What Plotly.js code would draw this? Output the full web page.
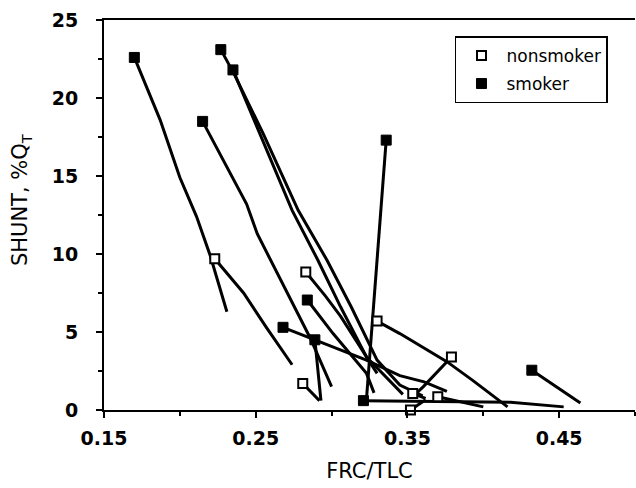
<!DOCTYPE html>
<html>
<head>
<meta charset="utf-8">
<script src="https://cdn.plot.ly/plotly-3.0.1.min.js"></script>
<style>html,body{margin:0;padding:0;background:#fff;}#chart{width:636px;height:488px;}</style>
</head>
<body>
<div id="chart"></div>
<script>
// Smokers (first point = measured marker)
const s1_x = [0.170, 0.187, 0.200, 0.211, 0.220, 0.231];
const s1_y = [22.6, 18.6, 14.9, 12.4, 9.9, 6.3];
const s2_x = [0.215, 0.231, 0.244, 0.251, 0.264, 0.286, 0.300];
const s2_y = [18.5, 15.6, 13.2, 11.3, 8.8, 4.6, 1.5];
const s3_x = [0.227, 0.236, 0.255, 0.278, 0.297, 0.313, 0.330, 0.345, 0.360];
const s3_y = [23.1, 21.5, 17.7, 12.8, 9.6, 6.6, 3.2, 1.6, 0.9];
const s4_x = [0.235, 0.253, 0.274, 0.291, 0.306, 0.323, 0.347];
const s4_y = [21.8, 17.7, 12.8, 9.6, 6.6, 3.4, 1.0];
const s5_x = [0.336, 0.323];
const s5_y = [17.3, 0.7];
const s6_x = [0.284, 0.301, 0.323, 0.328];
const s6_y = [7.05, 4.9, 2.35, 1.1];
const s7_x = [0.268, 0.289, 0.301, 0.323, 0.345, 0.361, 0.376];
const s7_y = [5.3, 4.5, 4.06, 3.2, 2.2, 1.8, 1.2];
const s8_x = [0.289, 0.293];
const s8_y = [4.5, 0.6];
const s9_x = [0.321, 0.360, 0.418, 0.453];
const s9_y = [0.6, 0.55, 0.5, 0.2];
const s10_x = [0.432, 0.464];
const s10_y = [2.55, 0.45];

// Nonsmokers
const n1_x = [0.223, 0.242, 0.257, 0.274];
const n1_y = [9.7, 7.5, 5.3, 2.9];
const n2_x = [0.283, 0.296, 0.306, 0.330];
const n2_y = [8.85, 7.3, 6.0, 2.35];
const n3_x = [0.281, 0.292];
const n3_y = [1.7, 0.6];
const n4_x = [0.330, 0.345, 0.376, 0.393, 0.416];
const n4_y = [5.7, 4.9, 3.1, 1.9, 0.2];
const n5_x = [0.379, 0.3605, 0.353];
const n5_y = [3.4, 1.5, 0.8];
const n6_x = [0.3535, 0.362];
const n6_y = [1.05, 0.75];
const n7_x = [0.370, 0.400];
const n7_y = [0.85, 0.2];
const n8_x = [0.352, 0.362];
const n8_y = [0.0, 0.65];

// Axis ticks
const xTicks = [0.15, 0.25, 0.35, 0.45];
const xTickText = ['0.15', '0.25', '0.35', '0.45'];
const yTicks = [0, 5, 10, 15, 20, 25];
const yTickText = ['0', '5', '10', '15', '20', '25'];

const smokers = [[s1_x,s1_y],[s2_x,s2_y],[s3_x,s3_y],[s4_x,s4_y],[s5_x,s5_y],[s6_x,s6_y],[s7_x,s7_y],[s8_x,s8_y],[s9_x,s9_y],[s10_x,s10_y]];
const nonsmokers = [[n1_x,n1_y],[n2_x,n2_y],[n3_x,n3_y],[n4_x,n4_y],[n5_x,n5_y],[n6_x,n6_y],[n7_x,n7_y],[n8_x,n8_y]];

const traces = [];
smokers.concat(nonsmokers).forEach(function(s){
  traces.push({x:s[0], y:s[1], mode:'lines', type:'scatter', showlegend:false, hoverinfo:'skip',
    line:{color:'#000', width:3}, cliponaxis:false});
});
traces.push({name:'nonsmoker', legendgroup:'a', type:'scatter', mode:'markers', cliponaxis:false,
  x:nonsmokers.map(s=>s[0][0]), y:nonsmokers.map(s=>s[1][0]),
  marker:{symbol:'square', size:9, color:'#fff', line:{color:'#000', width:2}}});
traces.push({name:'smoker', legendgroup:'b', type:'scatter', mode:'markers', cliponaxis:false,
  x:smokers.map(s=>s[0][0]), y:smokers.map(s=>s[1][0]),
  marker:{symbol:'square', size:10, color:'#000', line:{color:'#000', width:1}}});

const tickFont = {size:19, family:'DejaVu Sans, sans-serif', weight:'bold'};
const layout = {
  width:636, height:488,
  margin:{l:104, r:1, t:20, b:78},
  paper_bgcolor:'#fff', plot_bgcolor:'#fff',
  font:{family:'DejaVu Sans, sans-serif', color:'#000'},
  showlegend:true,
  legend:{x:0.661, y:0.958, xanchor:'left', yanchor:'top', bgcolor:'#fff',
    bordercolor:'#000', borderwidth:1.5, font:{size:17, family:'DejaVu Sans, sans-serif'},
    itemwidth:40, tracegroupgap:3},
  xaxis:{range:[0.15,0.5], tickmode:'array', tickvals:xTicks, ticktext:xTickText.map(t=>'<b>'+t+'</b>'),
    showline:true, linecolor:'#000', linewidth:2, mirror:true,
    ticks:'outside', ticklen:6, tickwidth:2, tickcolor:'#000', ticklabelstandoff:4,
    minor:{dtick:0.05, tick0:0.15, ticks:'outside', ticklen:4, tickwidth:2, tickcolor:'#000'},
    showgrid:false, zeroline:false, tickfont:tickFont,
    title:{text:'FRC/TLC', font:{size:21, family:'DejaVu Sans, sans-serif'}, standoff:16}},
  yaxis:{range:[0,25], tickmode:'array', tickvals:yTicks, ticktext:yTickText.map(t=>'<b>'+t+'</b>'),
    showline:true, linecolor:'#000', linewidth:2, mirror:false,
    ticks:'outside', ticklen:6, tickwidth:2, tickcolor:'#000', ticklabelstandoff:14,
    minor:{dtick:2.5, tick0:0, ticks:'outside', ticklen:4, tickwidth:2, tickcolor:'#000'},
    showgrid:false, zeroline:false, tickfont:tickFont,
    title:{text:''}},
  annotations:[{text:'SHUNT, %Q<sub>T</sub>', xref:'paper', yref:'paper', x:-0.155, y:0.54,
    xanchor:'center', yanchor:'middle', textangle:-90, showarrow:false,
    font:{size:21, family:'DejaVu Sans, sans-serif', color:'#000'}}]
};
Plotly.newPlot('chart', traces, layout, {displayModeBar:false, staticPlot:true});
</script>
</body>
</html>
